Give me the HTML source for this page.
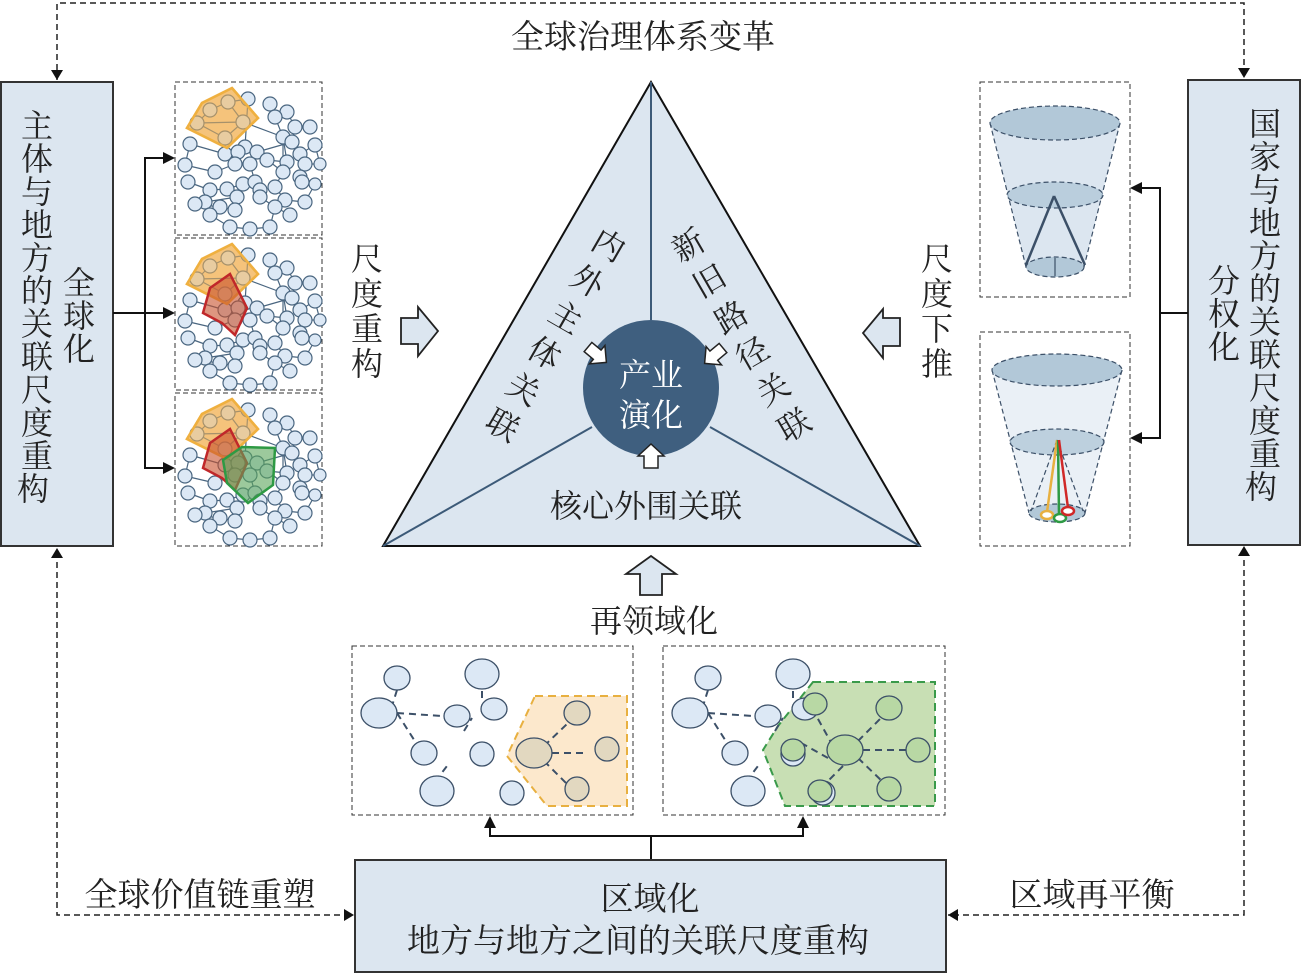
<!DOCTYPE html>
<html><head><meta charset="utf-8"><style>
html,body{margin:0;padding:0;background:#fff}
svg{display:block}
text{font-family:"Liberation Serif","Noto Serif CJK SC",serif;fill:#222}
</style></head><body>
<svg width="1302" height="974" viewBox="0 0 1302 974" xmlns="http://www.w3.org/2000/svg">
<defs>
<g id="net" stroke="#4a6680" stroke-width="1.2">
<g fill="none">
<path d="M53,20L35,28M53,20L68,40M35,28L22,41M22,41L68,40M68,40L50,56M22,41L50,56M68,40L108,55M50,56L50,72M73,17L70,65M95,22L100,35M100,35L108,55M112,30L120,45M120,45L117,60M135,45L120,45M117,60L125,72M140,63L125,72M125,72L130,82M108,55L112,80M15,62L50,72M50,72L63,70M70,65L82,70M82,70L92,78M92,78L112,80M112,80L108,90M130,82L145,82M130,82L125,95M10,83L40,90M40,90L60,82M60,82L75,82M75,82L80,100M108,90L100,105M125,95L127,100M127,100L140,102M13,100L35,108M35,108L52,107M52,107L68,102M68,102L80,100M80,100L85,108M85,108L85,115M100,105L110,118M110,118L130,120M130,120L140,102M30,120L62,115M62,115L60,128M85,115L100,125M100,125L115,133M20,122L45,125M45,125L35,133M35,133L55,145M55,145L75,147M75,147L95,145M95,145L100,125M63,70L60,82M82,70L108,90M68,102L62,115M45,125L60,128M117,60L82,70M53,20L73,17M108,55L108,90M140,63L145,82M15,62L10,83"/>
</g>
<g fill="#dce8f5">
<circle cx="53" cy="20" r="7"/><circle cx="35" cy="28" r="7"/><circle cx="22" cy="41" r="7"/><circle cx="68" cy="40" r="7"/><circle cx="50" cy="56" r="7"/>
<circle cx="73" cy="17" r="7"/><circle cx="95" cy="22" r="7"/><circle cx="112" cy="30" r="7"/><circle cx="100" cy="35" r="7"/><circle cx="120" cy="45" r="7"/><circle cx="108" cy="55" r="7"/><circle cx="135" cy="45" r="7"/><circle cx="117" cy="60" r="7"/><circle cx="140" cy="63" r="7"/><circle cx="125" cy="72" r="7"/>
<circle cx="15" cy="62" r="7"/><circle cx="50" cy="72" r="7"/><circle cx="70" cy="65" r="7"/><circle cx="63" cy="70" r="7"/><circle cx="82" cy="70" r="7"/><circle cx="92" cy="78" r="7"/><circle cx="112" cy="80" r="7"/><circle cx="130" cy="82" r="7"/><circle cx="145" cy="82" r="6"/>
<circle cx="10" cy="83" r="7"/><circle cx="40" cy="90" r="7"/><circle cx="60" cy="82" r="7"/><circle cx="75" cy="82" r="7"/><circle cx="108" cy="90" r="7"/><circle cx="125" cy="95" r="7"/>
<circle cx="13" cy="100" r="7"/><circle cx="35" cy="108" r="7"/><circle cx="52" cy="107" r="7"/><circle cx="68" cy="102" r="7"/><circle cx="80" cy="100" r="7"/><circle cx="85" cy="108" r="7"/><circle cx="100" cy="105" r="7"/><circle cx="127" cy="100" r="7"/><circle cx="140" cy="102" r="6"/>
<circle cx="30" cy="120" r="7"/><circle cx="62" cy="115" r="7"/><circle cx="85" cy="115" r="7"/><circle cx="110" cy="118" r="7"/><circle cx="130" cy="120" r="7"/><circle cx="20" cy="122" r="7"/><circle cx="45" cy="125" r="7"/><circle cx="60" cy="128" r="7"/><circle cx="100" cy="125" r="7"/><circle cx="115" cy="133" r="7"/><circle cx="35" cy="133" r="7"/><circle cx="55" cy="145" r="7"/><circle cx="75" cy="147" r="7"/><circle cx="95" cy="145" r="7"/>
</g>
</g>
<polygon id="orp" points="12,46 27,21 57,6 83,36 52,66" fill="#f2b45a" fill-opacity="0.55" stroke="#efb040" stroke-width="2.5"/>
<polygon id="redp" points="35,50 55,36 72,70 60,97 47,85 28,75" fill="#c8502c" fill-opacity="0.6" stroke="#c0282a" stroke-width="2.5"/>
<polygon id="grp" points="48,67 67,54 100,55 98,92 73,110 52,90" fill="#5aa55a" fill-opacity="0.6" stroke="#2e9a44" stroke-width="2.5"/>
<g id="bnodes" fill="#dce8f5" stroke="#3c5068" stroke-width="1.3">
<path d="M45,44L40,60M45,67L90,70M45,67L66,100M112,85L120,72M130,45L130,52M70,145L100,152M76,145L95,120" fill="none" stroke-dasharray="7,5" stroke-width="2"/>
<ellipse cx="45" cy="32" rx="13" ry="12"/><ellipse cx="27" cy="67" rx="18" ry="15"/><ellipse cx="105" cy="70" rx="13" ry="11"/><ellipse cx="130" cy="28" rx="17" ry="15"/><ellipse cx="142" cy="63" rx="13" ry="11"/><ellipse cx="72" cy="107" rx="13" ry="12"/><ellipse cx="130" cy="108" rx="12" ry="12"/><ellipse cx="85" cy="145" rx="17" ry="15"/><ellipse cx="160" cy="147" rx="12" ry="12"/>
</g>
</defs>

<g fill="none" stroke="#222" stroke-width="1.5" stroke-dasharray="6,4">
<polyline points="57,80 57,3 1244,3 1244,78" />
<polyline points="57,552 57,915 354,915"/>
<polyline points="1244,550 1244,915 948,915"/>
</g>
<g fill="#111">
<path d="M51,70 L57,80 L63,70z"/><path d="M1238,68 L1244,78 L1250,68z"/>
<path d="M51,558 L57,548 L63,558z"/><path d="M1238,556 L1244,546 L1250,556z"/>
<path d="M344,909 L354,915 L344,921z"/><path d="M958,909 L948,915 L958,921z"/>
</g>

<text x="643" y="48" font-size="33" text-anchor="middle">全球治理体系变革</text>

<rect x="1" y="82" width="112" height="464" fill="#dce6f0" stroke="#333" stroke-width="2"/>
<text font-size="32" text-anchor="middle">
<tspan x="37" y="137">主</tspan><tspan x="37" y="170">体</tspan><tspan x="37" y="203">与</tspan><tspan x="37" y="236">地</tspan><tspan x="37" y="269">方</tspan><tspan x="37" y="302">的</tspan><tspan x="37" y="335">关</tspan><tspan x="37" y="368">联</tspan><tspan x="37" y="401">尺</tspan><tspan x="37" y="434">度</tspan><tspan x="37" y="467">重</tspan><tspan x="37" y="500">构</tspan>
<tspan x="79" y="294">全</tspan><tspan x="79" y="327">球</tspan><tspan x="79" y="360">化</tspan>
</text>
<rect x="1188" y="80" width="112" height="465" fill="#dce6f0" stroke="#333" stroke-width="2"/>
<text font-size="32" text-anchor="middle">
<tspan x="1265" y="135">国</tspan><tspan x="1265" y="168">家</tspan><tspan x="1265" y="201">与</tspan><tspan x="1265" y="234">地</tspan><tspan x="1265" y="267">方</tspan><tspan x="1265" y="300">的</tspan><tspan x="1265" y="333">关</tspan><tspan x="1265" y="366">联</tspan><tspan x="1265" y="399">尺</tspan><tspan x="1265" y="432">度</tspan><tspan x="1265" y="465">重</tspan><tspan x="1265" y="498">构</tspan>
<tspan x="1224" y="292">分</tspan><tspan x="1224" y="325">权</tspan><tspan x="1224" y="358">化</tspan>
</text>

<g stroke="#111" stroke-width="2" fill="none">
<line x1="113" y1="313" x2="145" y2="313"/>
<polyline points="165,158 145,158 145,468 165,468"/>
<line x1="145" y1="313" x2="165" y2="313"/>
<polyline points="1188,313 1160,313"/>
<polyline points="1140,188 1160,188 1160,438 1140,438"/>
</g>
<g fill="#111">
<path d="M163,152 L175,158 L163,164z"/><path d="M163,307 L175,313 L163,319z"/><path d="M163,462 L175,468 L163,474z"/>
<path d="M1142,182 L1130,188 L1142,194z"/><path d="M1142,432 L1130,438 L1142,444z"/>
</g>

<g fill="none" stroke="#333" stroke-width="1" stroke-dasharray="5,3">
<rect x="175" y="82" width="147" height="153"/><rect x="175" y="238" width="147" height="152"/><rect x="175" y="393" width="147" height="153"/>
<rect x="980" y="82" width="150" height="215"/><rect x="980" y="332" width="150" height="214"/>
<rect x="352" y="646" width="281" height="169"/><rect x="663" y="646" width="282" height="169"/>
</g>
<g transform="translate(175,82)"><use href="#orp"/><use href="#net"/><use href="#orp" fill-opacity="0.35"/></g>
<g transform="translate(175,238)"><use href="#orp"/><use href="#net"/><use href="#orp" fill-opacity="0.3"/><use href="#redp"/></g>
<g transform="translate(175,393)"><use href="#orp"/><use href="#net"/><use href="#orp" fill-opacity="0.3"/><use href="#redp"/><use href="#grp"/></g>

<text font-size="32" text-anchor="middle"><tspan x="367" y="270">尺</tspan><tspan x="367" y="305">度</tspan><tspan x="367" y="340">重</tspan><tspan x="367" y="375">构</tspan></text>
<text font-size="32" text-anchor="middle"><tspan x="937" y="270">尺</tspan><tspan x="937" y="305">度</tspan><tspan x="937" y="340">下</tspan><tspan x="937" y="375">推</tspan></text>
<path d="M401,318 L418,318 L418,307 L438,331 L418,356 L418,344 L401,344z" fill="#dce6f0" stroke="#222" stroke-width="1.8"/>
<path d="M900,318 L883,318 L883,309 L863,333 L883,358 L883,346 L900,346z" fill="#dce6f0" stroke="#222" stroke-width="1.8"/>

<polygon points="383,546 651,82 920,546" fill="#dce6f0" stroke="#111" stroke-width="2"/>
<g stroke="#3c5a78" stroke-width="2">
<line x1="651" y1="82" x2="651" y2="320"/>
<line x1="383" y1="546" x2="592" y2="427"/>
<line x1="920" y1="546" x2="710" y2="427"/>
</g>
<circle cx="651" cy="388" r="68" fill="#3f5f7f"/>
<text font-size="32" text-anchor="middle"><tspan x="651" y="386" style="fill:#fff">产业</tspan><tspan x="651" y="426" style="fill:#fff">演化</tspan></text>
<text font-size="32" text-anchor="middle" x="646" y="517">核心外围关联</text>
<g font-size="32" text-anchor="middle">
<text transform="translate(603,255) rotate(30)">内</text>
<text transform="translate(582,291) rotate(30)">外</text>
<text transform="translate(560,327) rotate(30)">主</text>
<text transform="translate(539,363) rotate(30)">体</text>
<text transform="translate(518,399) rotate(30)">关</text>
<text transform="translate(497,435) rotate(30)">联</text>
<text transform="translate(694,255) rotate(-30)">新</text>
<text transform="translate(715,291) rotate(-30)">旧</text>
<text transform="translate(737,327) rotate(-30)">路</text>
<text transform="translate(758,363) rotate(-30)">径</text>
<text transform="translate(779,399) rotate(-30)">关</text>
<text transform="translate(800,435) rotate(-30)">联</text>
</g>
<path d="M644,468 L644,456 L638,456 L651,444 L664,456 L658,456 L658,468z" fill="#fff" stroke="#222" stroke-width="1.5"/>
<path d="M0,-6 L12,-6 L12,-12 L24,0 L12,12 L12,6 L0,6z" transform="translate(588,347) rotate(40)" fill="#fff" stroke="#222" stroke-width="1.5"/>
<path d="M0,-6 L12,-6 L12,-12 L24,0 L12,12 L12,6 L0,6z" transform="translate(723,348) rotate(140)" fill="#fff" stroke="#222" stroke-width="1.5"/>

<path d="M640,595 L640,574 L626,574 L651,556 L676,574 L662,574 L662,595z" fill="#dce6f0" stroke="#222" stroke-width="1.8"/>
<text x="654" y="632" font-size="32" text-anchor="middle">再领域化</text>

<g stroke="#3c5068" stroke-width="1.2" stroke-dasharray="5,3">
<path d="M990,123 L1026,267 A29,10 0 0 0 1084,267 L1120,123z" fill="#dce6f0" stroke="none"/>
<line x1="990" y1="123" x2="1026" y2="267"/><line x1="1120" y1="123" x2="1084" y2="267"/>
<ellipse cx="1055" cy="123" rx="65" ry="17" fill="#b2c8d8"/>
<ellipse cx="1055" cy="195" rx="48" ry="13" fill="#b2c8d8" fill-opacity="0.8"/>
<ellipse cx="1055" cy="267" rx="29" ry="10" fill="#b2c8d8"/>
<path d="M992,370 L1029,513 A28,9 0 0 0 1085,513 L1122,370z" fill="#dce6f0" stroke="none" fill-opacity="0.6"/>
<line x1="992" y1="370" x2="1029" y2="513"/><line x1="1122" y1="370" x2="1085" y2="513"/>
<ellipse cx="1057" cy="370" rx="65" ry="16" fill="#b2c8d8"/>
<ellipse cx="1057" cy="442" rx="47" ry="13" fill="#b2c8d8" fill-opacity="0.8"/>
<ellipse cx="1057" cy="513" rx="28" ry="9" fill="#b2c8d8"/>
<line x1="1057" y1="440" x2="1031" y2="511"/><line x1="1057" y1="440" x2="1083" y2="511"/>
</g>
<g stroke-width="2.5" fill="none">
<line x1="1054" y1="196" x2="1026" y2="265" stroke="#3c5068"/><line x1="1054" y1="196" x2="1085" y2="265" stroke="#3c5068"/>
<line x1="1055" y1="258" x2="1055" y2="276" stroke="#3c5068" stroke-width="1.2"/>
<line x1="1057" y1="440" x2="1047" y2="512" stroke="#e8b040"/>
<line x1="1058" y1="440" x2="1059" y2="515" stroke="#2e9a44"/>
<line x1="1059" y1="440" x2="1068" y2="508" stroke="#d02828"/>
<ellipse cx="1047" cy="515" rx="6" ry="4" stroke="#e8b040" fill="#fff"/>
<ellipse cx="1060" cy="518" rx="6" ry="4" stroke="#2e9a44" fill="#fff"/>
<ellipse cx="1068" cy="511" rx="6" ry="4" stroke="#d02828" fill="#fff"/>
</g>

<g transform="translate(352,646)">
<polygon points="183,50 275,50 275,160 195,160 155,110" fill="#fce8cc" stroke="#e8b040" stroke-width="2" stroke-dasharray="8,5"/>
<use href="#bnodes"/>
<g stroke="#3c5068" stroke-width="1.3" fill="#e2d8c0">
<path d="M200,107L235,107M192,100L215,78M192,115L215,138" fill="none" stroke-dasharray="7,5" stroke-width="2"/>
<ellipse cx="182" cy="107" rx="18" ry="15"/><ellipse cx="225" cy="67" rx="13" ry="12"/><ellipse cx="255" cy="103" rx="12" ry="12"/><ellipse cx="225" cy="143" rx="12" ry="12"/>
</g>
</g>
<g transform="translate(663,646)">
<polygon points="150,36 272,36 272,160 122,160 100,104 115,80" fill="#c8dfb4" stroke="#3a9a4a" stroke-width="2" stroke-dasharray="8,5"/>
<use href="#bnodes"/>
<g stroke="#3c5068" stroke-width="1.3" fill="#b8d8a4">
<path d="M200,104L245,104M170,100L150,64M195,95L222,68M195,112L222,138M165,112L140,98M180,120L160,140" fill="none" stroke-dasharray="7,5" stroke-width="2"/>
<ellipse cx="182" cy="104" rx="18" ry="15"/><ellipse cx="226" cy="62" rx="13" ry="12"/><ellipse cx="255" cy="104" rx="12" ry="12"/><ellipse cx="226" cy="143" rx="12" ry="12"/><ellipse cx="152" cy="58" rx="12" ry="11"/><ellipse cx="130" cy="104" rx="12" ry="11"/><ellipse cx="157" cy="145" rx="12" ry="11"/>
</g>
</g>

<g stroke="#111" stroke-width="2" fill="none">
<line x1="651" y1="860" x2="651" y2="836"/>
<polyline points="490,826 490,836 803,836 803,826"/>
</g>
<path d="M484,828 L490,816 L496,828z M797,828 L803,816 L809,828z" fill="#111"/>

<rect x="355" y="860" width="591" height="112" fill="#dce6f0" stroke="#333" stroke-width="2"/>
<text x="650" y="910" font-size="33" text-anchor="middle">区域化</text>
<text x="638" y="952" font-size="33" text-anchor="middle">地方与地方之间的关联尺度重构</text>
<text x="200" y="906" font-size="33" text-anchor="middle">全球价值链重塑</text>
<text x="1092" y="906" font-size="33" text-anchor="middle">区域再平衡</text>
</svg>
</body></html>
